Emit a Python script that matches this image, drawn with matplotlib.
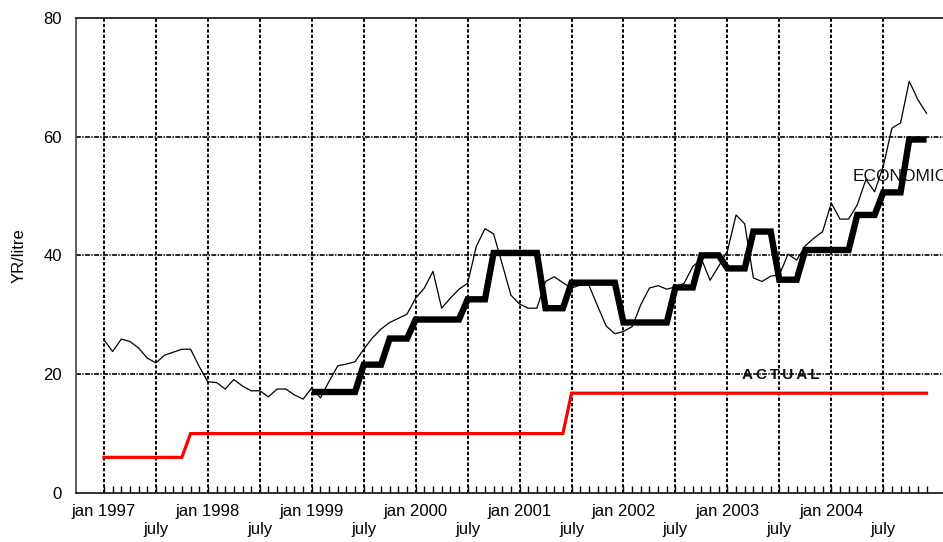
import matplotlib
matplotlib.use("Agg")
import matplotlib.pyplot as plt
import numpy as np

plt.rcParams['font.family'] = ['Liberation Sans', 'DejaVu Sans']
plt.rcParams['lines.scale_dashes'] = False

# Months since jan 1997 (0 .. 95)
months = list(range(96))

# Thin line: monthly price (YR/litre)
market = [25.8, 23.8, 25.9, 25.5, 24.4, 22.7, 21.9, 23.2, 23.7, 24.2, 24.2, 21.3,
          18.7, 18.6, 17.5, 19.1, 18.0, 17.2, 17.2, 16.2, 17.5, 17.5, 16.5, 15.8,
          17.7, 16.0, 18.8, 21.4, 21.7, 22.1, 24.2, 26.1, 27.6, 28.7, 29.4, 30.1,
          32.8, 34.5, 37.3, 31.1, 32.8, 34.3, 35.3, 41.5, 44.5, 43.6, 38.5, 33.3,
          31.8, 31.1, 31.1, 35.6, 36.4, 35.4, 34.5, 35.0, 35.0, 31.5, 28.1, 26.8,
          27.2, 28.0, 31.7, 34.5, 34.9, 34.3, 34.7, 35.3, 38.1, 39.4, 35.8, 38.2,
          40.7, 46.8, 45.3, 36.2, 35.6, 36.5, 36.7, 40.2, 39.2, 41.6, 42.9, 44.0,
          48.8, 46.1, 46.1, 48.5, 52.8, 50.7, 55.0, 61.4, 62.3, 69.3, 66.2, 63.9]

# Thick line: economic price, from jan 1999 (month 24)
economic_months = list(range(24, 96))
economic = [17.0] * 6 + [21.6] * 3 + [26.0] * 3 + [29.2] * 6 + [32.6] * 3 + \
           [40.4] * 6 + [31.1] * 3 + [35.4] * 6 + [28.7] * 6 + [34.6] * 3 + \
           [40.0] * 3 + [37.8] * 3 + [44.0] * 3 + [35.9] * 3 + [40.9] * 6 + \
           [46.8] * 3 + [50.6] * 3 + [59.5] * 3

# Red line: actual price
actual = [6.0] * 10 + [10.0] * 44 + [16.8] * 42

major_ticks = list(range(0, 91, 6))
major_labels = ['jan 1997', '\njuly', 'jan 1998', '\njuly', 'jan 1999', '\njuly',
                'jan 2000', '\njuly', 'jan 2001', '\njuly', 'jan 2002', '\njuly',
                'jan 2003', '\njuly', 'jan 2004', '\njuly']
minor_ticks = [m for m in range(1, 96) if m % 6 != 0]
y_ticks = [0, 20, 40, 60, 80]

W, H = 943, 542
fig = plt.figure(figsize=(W / 100, H / 100), dpi=100)
ax = fig.add_axes([76 / W, (H - 493) / H, (W - 76) / W, (493 - 17.7) / H])

ax.set_xlim(-3.23, 96.9)
ax.set_ylim(0, 80)

# grid
for m in major_ticks:
    ax.axvline(m, color='black', lw=1.4, ls=(0, (2.4, 1.5)), zorder=1)
for v in y_ticks[1:4]:
    ax.axhline(v, color='black', lw=1.2, ls=(0, (3.5, 1.0, 1.0, 1.0)), zorder=1)

ax.plot(months, market, color='black', lw=0.9, zorder=3)
ax.plot(economic_months, economic, color='black', lw=4.6, zorder=4,
        solid_joinstyle='miter', solid_capstyle='butt')
ax.plot(months, actual, color='#ff0000', lw=2.3, zorder=5,
        solid_joinstyle='miter')

ax.text(78.2, 19.9, 'A\u2009C\u2009T\u2009U\u2009A\u2009L', ha='center', va='center',
        fontsize=11, fontweight='bold', color='#111111', zorder=6,
        family=['Liberation Sans', 'DejaVu Sans'])
ax.text(86.5, 53.2, 'ECONOMIC', ha='left', va='center', fontsize=12.5,
        color='#111111', zorder=6, clip_on=False)

ax.set_xticks(major_ticks)
ax.set_xticklabels(major_labels)
ax.set_xticks(minor_ticks, minor=True)
ax.tick_params(axis='x', which='major', direction='in', length=5, width=1,
               labelsize=12, pad=8)
ax.tick_params(axis='x', which='minor', direction='in', length=5, width=1)
ax.set_yticks(y_ticks)
ax.tick_params(axis='y', which='major', length=0, labelsize=12, pad=10)

ax.set_ylabel('YR/litre', fontsize=12, labelpad=12)

ax.spines['right'].set_visible(False)
ax.spines['left'].set_color('#555555')
ax.spines['left'].set_linewidth(1.3)
ax.spines['bottom'].set_color('#222222')
ax.spines['bottom'].set_linewidth(1.3)
ax.spines['top'].set_color('#222222')
ax.spines['top'].set_linewidth(1.3)

fig.savefig('out.png', dpi=100)
